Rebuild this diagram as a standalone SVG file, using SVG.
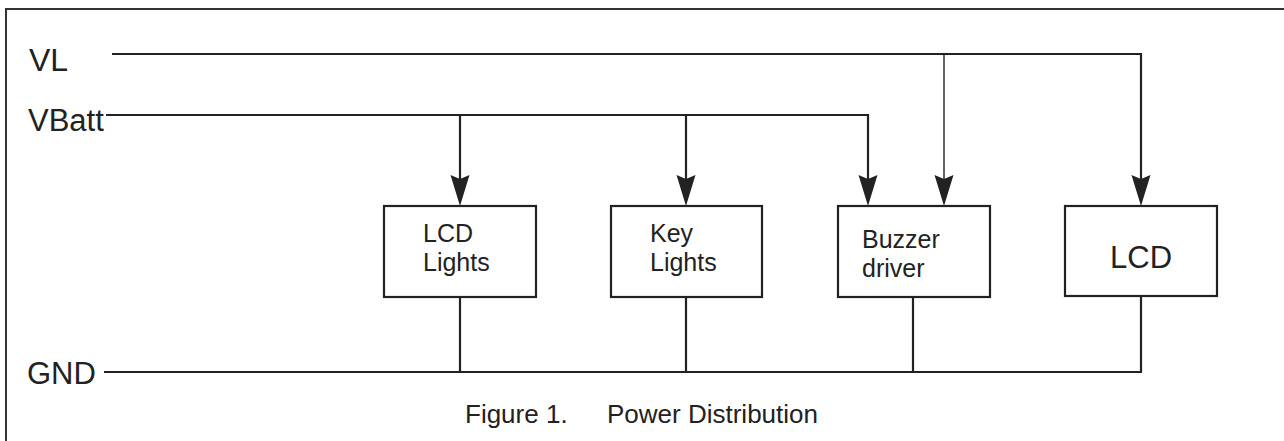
<svg xmlns="http://www.w3.org/2000/svg" width="1284" height="441" viewBox="0 0 1284 441">
<style>
.w{fill:none;stroke:#222;stroke-width:2.2;stroke-linejoin:miter}
.thin{fill:none;stroke:#222;stroke-width:1.4}
.box{fill:#fff;stroke:#222;stroke-width:2.2}
.t{font-family:"Liberation Sans",Arial,sans-serif;fill:#222}
</style>
<defs>
<marker id="ah" markerUnits="userSpaceOnUse" viewBox="-33 -11 36 22" markerWidth="36" markerHeight="22" refX="-6" refY="0" orient="auto">
<path d="M0,0 L-31,-9.5 L-27,0 L-31,9.5 Z" fill="#222"/>
</marker>
</defs>
<rect x="6" y="9" width="1290" height="450" fill="none" stroke="#333" stroke-width="2"/>
<g id="labels">
<text class="t" x="29" y="71" font-size="32">VL</text>
<text class="t" x="28" y="131" font-size="31">VBatt</text>
<text class="t" x="27" y="384" font-size="31">GND</text>
<text class="t" x="465" y="423" font-size="26">Figure 1.</text>
<text class="t" x="607" y="423" font-size="26">Power Distribution</text>
</g>
<g id="connectors">
<path class="w" d="M112,54 H1141 V200" marker-end="url(#ah)"/>
<path class="thin" d="M944,54 V200" marker-end="url(#ah)"/>
<path class="w" d="M106,115 H868 V200" marker-end="url(#ah)"/>
<path class="w" d="M460,115 V200" marker-end="url(#ah)"/>
<path class="w" d="M686,115 V200" marker-end="url(#ah)"/>
<path class="w" d="M104,372 H1141 V297"/>
<path class="w" d="M460,297 V372"/>
<path class="w" d="M686,297 V372"/>
<path class="w" d="M913,297 V372"/>
</g>
<g id="lcd-lights">
<rect class="box" x="384" y="206" width="152" height="91"/>
<text class="t" x="423" y="242" font-size="25">LCD</text>
<text class="t" x="423" y="271" font-size="25">Lights</text>
</g>
<g id="key-lights">
<rect class="box" x="611" y="206" width="151" height="91"/>
<text class="t" x="650" y="242" font-size="25">Key</text>
<text class="t" x="650" y="271" font-size="25">Lights</text>
</g>
<g id="buzzer-driver">
<rect class="box" x="838" y="206" width="152" height="91"/>
<text class="t" x="862" y="248" font-size="25">Buzzer</text>
<text class="t" x="862" y="277" font-size="25">driver</text>
</g>
<g id="lcd">
<rect class="box" x="1065" y="206" width="152" height="90"/>
<text class="t" x="1110" y="268" font-size="31">LCD</text>
</g>
</svg>
